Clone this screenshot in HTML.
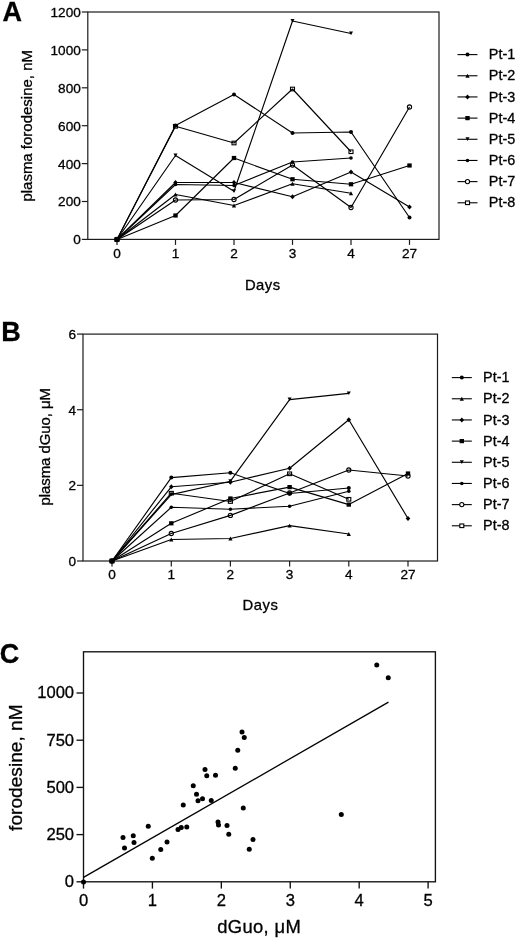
<!DOCTYPE html>
<html lang="en"><head><meta charset="utf-8"><title>Figure</title>
<style>html,body{margin:0;padding:0;background:#fff}svg{display:block}text{font-kerning:none;font-family:'Liberation Sans', Arial, Helvetica, sans-serif;fill:#000;stroke:#000;stroke-width:0.3px}</style>
</head><body>
<svg width="520" height="941" viewBox="0 0 520 941">
<rect width="520" height="941" fill="#fff"/>
<g>
<rect x="87.8" y="12.0" width="351.2" height="227.4" fill="none" stroke="#1c1c1c" stroke-width="1.2"/>
<line x1="81.8" y1="239.4" x2="87.8" y2="239.4" stroke="#1c1c1c" stroke-width="1.2"/>
<text x="80.8" y="244.30" font-size="13.6" text-anchor="end">0</text>
<line x1="81.8" y1="201.5" x2="87.8" y2="201.5" stroke="#1c1c1c" stroke-width="1.2"/>
<text x="80.8" y="206.40" font-size="13.6" text-anchor="end">200</text>
<line x1="81.8" y1="163.6" x2="87.8" y2="163.6" stroke="#1c1c1c" stroke-width="1.2"/>
<text x="80.8" y="168.50" font-size="13.6" text-anchor="end">400</text>
<line x1="81.8" y1="125.7" x2="87.8" y2="125.7" stroke="#1c1c1c" stroke-width="1.2"/>
<text x="80.8" y="130.60" font-size="13.6" text-anchor="end">600</text>
<line x1="81.8" y1="87.8" x2="87.8" y2="87.8" stroke="#1c1c1c" stroke-width="1.2"/>
<text x="80.8" y="92.70" font-size="13.6" text-anchor="end">800</text>
<line x1="81.8" y1="49.9" x2="87.8" y2="49.9" stroke="#1c1c1c" stroke-width="1.2"/>
<text x="80.8" y="54.80" font-size="13.6" text-anchor="end">1000</text>
<line x1="81.8" y1="12.0" x2="87.8" y2="12.0" stroke="#1c1c1c" stroke-width="1.2"/>
<text x="80.8" y="16.90" font-size="13.6" text-anchor="end">1200</text>
<line x1="117" y1="239.4" x2="117" y2="244.9" stroke="#1c1c1c" stroke-width="1.2"/>
<text x="117" y="257.6" font-size="13.6" text-anchor="middle">0</text>
<line x1="175.5" y1="239.4" x2="175.5" y2="244.9" stroke="#1c1c1c" stroke-width="1.2"/>
<text x="175.5" y="257.6" font-size="13.6" text-anchor="middle">1</text>
<line x1="234" y1="239.4" x2="234" y2="244.9" stroke="#1c1c1c" stroke-width="1.2"/>
<text x="234" y="257.6" font-size="13.6" text-anchor="middle">2</text>
<line x1="292.5" y1="239.4" x2="292.5" y2="244.9" stroke="#1c1c1c" stroke-width="1.2"/>
<text x="292.5" y="257.6" font-size="13.6" text-anchor="middle">3</text>
<line x1="351" y1="239.4" x2="351" y2="244.9" stroke="#1c1c1c" stroke-width="1.2"/>
<text x="351" y="257.6" font-size="13.6" text-anchor="middle">4</text>
<line x1="409.5" y1="239.4" x2="409.5" y2="244.9" stroke="#1c1c1c" stroke-width="1.2"/>
<text x="409.5" y="257.6" font-size="13.6" text-anchor="middle">27</text>
<text x="244.9" y="289.8" font-size="14.8" textLength="35.3" lengthAdjust="spacing">Days</text>
<text transform="translate(32.1 201.6) rotate(-90)" font-size="15" textLength="151.6" lengthAdjust="spacing">plasma forodesine, nM</text>
<text x="2.6" y="21" font-size="27" font-weight="bold" stroke-width="0">A</text>
<polyline points="117,239.5 175.5,125.5 234,94.5 292.5,133 351,132 409.5,217.5" fill="none" stroke="#000" stroke-width="1.15" stroke-linejoin="round"/>
<polyline points="117,239.5 175.5,194.5 234,205.5 292.5,183.75 351,193.25" fill="none" stroke="#000" stroke-width="1.15" stroke-linejoin="round"/>
<polyline points="117,239.5 175.5,182.5 234,182.5 292.5,196.75 351,172 409.5,207" fill="none" stroke="#000" stroke-width="1.15" stroke-linejoin="round"/>
<polyline points="117,239.5 175.5,215.5 234,158 292.5,179.25 351,184.25 409.5,165.5" fill="none" stroke="#000" stroke-width="1.15" stroke-linejoin="round"/>
<polyline points="117,239.5 175.5,155.5 234,191.25 292.5,21 351,33.5" fill="none" stroke="#000" stroke-width="1.15" stroke-linejoin="round"/>
<polyline points="117,239.5 175.5,184.5 234,185.5 292.5,162 351,158" fill="none" stroke="#000" stroke-width="1.15" stroke-linejoin="round"/>
<polyline points="117,239.5 175.5,200 234,199.5 292.5,165 351,207.5 409.5,107" fill="none" stroke="#000" stroke-width="1.15" stroke-linejoin="round"/>
<polyline points="117,239.5 175.5,126.3 234,143 292.5,89 351,151.75" fill="none" stroke="#000" stroke-width="1.15" stroke-linejoin="round"/>
<circle cx="117" cy="239.5" r="2.0"/>
<circle cx="175.5" cy="125.5" r="2.0"/>
<circle cx="234" cy="94.5" r="2.0"/>
<circle cx="292.5" cy="133" r="2.0"/>
<circle cx="351" cy="132" r="2.0"/>
<circle cx="409.5" cy="217.5" r="2.0"/>
<path d="M114.90 241.50L119.10 241.50L117 237.60Z"/>
<path d="M173.40 196.50L177.60 196.50L175.5 192.60Z"/>
<path d="M231.90 207.50L236.10 207.50L234 203.60Z"/>
<path d="M290.40 185.75L294.60 185.75L292.5 181.85Z"/>
<path d="M348.90 195.25L353.10 195.25L351 191.35Z"/>
<path d="M114.70 239.5L117 237.00L119.30 239.5L117 242.00Z"/>
<path d="M173.20 182.5L175.5 180.00L177.80 182.5L175.5 185.00Z"/>
<path d="M231.70 182.5L234 180.00L236.30 182.5L234 185.00Z"/>
<path d="M290.20 196.75L292.5 194.25L294.80 196.75L292.5 199.25Z"/>
<path d="M348.70 172L351 169.50L353.30 172L351 174.50Z"/>
<path d="M407.20 207L409.5 204.50L411.80 207L409.5 209.50Z"/>
<rect x="114.80" y="237.40" width="4.4" height="4.2"/>
<rect x="173.30" y="213.40" width="4.4" height="4.2"/>
<rect x="231.80" y="155.90" width="4.4" height="4.2"/>
<rect x="290.30" y="177.15" width="4.4" height="4.2"/>
<rect x="348.80" y="182.15" width="4.4" height="4.2"/>
<rect x="407.30" y="163.40" width="4.4" height="4.2"/>
<path d="M115.00 237.50L119.00 237.50L117 241.20Z"/>
<path d="M173.50 153.50L177.50 153.50L175.5 157.20Z"/>
<path d="M232.00 189.25L236.00 189.25L234 192.95Z"/>
<path d="M290.50 19.00L294.50 19.00L292.5 22.70Z"/>
<path d="M349.00 31.50L353.00 31.50L351 35.20Z"/>
<circle cx="117" cy="239.5" r="1.8"/>
<circle cx="175.5" cy="184.5" r="1.8"/>
<circle cx="234" cy="185.5" r="1.8"/>
<circle cx="292.5" cy="162" r="1.8"/>
<circle cx="351" cy="158" r="1.8"/>
<circle cx="117" cy="239.5" r="2.1" fill="none" stroke="#000" stroke-width="1.1"/>
<circle cx="175.5" cy="200" r="2.1" fill="none" stroke="#000" stroke-width="1.1"/>
<circle cx="234" cy="199.5" r="2.1" fill="none" stroke="#000" stroke-width="1.1"/>
<circle cx="292.5" cy="165" r="2.1" fill="none" stroke="#000" stroke-width="1.1"/>
<circle cx="351" cy="207.5" r="2.1" fill="none" stroke="#000" stroke-width="1.1"/>
<circle cx="409.5" cy="107" r="2.1" fill="none" stroke="#000" stroke-width="1.1"/>
<rect x="115.00" y="237.70" width="4" height="3.6" fill="none" stroke="#000" stroke-width="1.1"/>
<rect x="173.50" y="124.50" width="4" height="3.6" fill="none" stroke="#000" stroke-width="1.1"/>
<rect x="232.00" y="141.20" width="4" height="3.6" fill="none" stroke="#000" stroke-width="1.1"/>
<rect x="290.50" y="87.20" width="4" height="3.6" fill="none" stroke="#000" stroke-width="1.1"/>
<rect x="349.00" y="149.95" width="4" height="3.6" fill="none" stroke="#000" stroke-width="1.1"/>
<line x1="457.5" y1="54.60" x2="477.5" y2="54.60" stroke="#000" stroke-width="1.1"/>
<circle cx="467.5" cy="54.6" r="2.0"/>
<text x="488.8" y="59.20" font-size="14.4">Pt-1</text>
<line x1="457.5" y1="75.77" x2="477.5" y2="75.77" stroke="#000" stroke-width="1.1"/>
<path d="M465.40 77.77L469.60 77.77L467.5 73.87Z"/>
<text x="488.8" y="80.37" font-size="14.4">Pt-2</text>
<line x1="457.5" y1="96.94" x2="477.5" y2="96.94" stroke="#000" stroke-width="1.1"/>
<path d="M465.20 96.94L467.5 94.44L469.80 96.94L467.5 99.44Z"/>
<text x="488.8" y="101.54" font-size="14.4">Pt-3</text>
<line x1="457.5" y1="118.11" x2="477.5" y2="118.11" stroke="#000" stroke-width="1.1"/>
<rect x="465.30" y="116.01" width="4.4" height="4.2"/>
<text x="488.8" y="122.71" font-size="14.4">Pt-4</text>
<line x1="457.5" y1="139.28" x2="477.5" y2="139.28" stroke="#000" stroke-width="1.1"/>
<path d="M465.50 137.28L469.50 137.28L467.5 140.98Z"/>
<text x="488.8" y="143.88" font-size="14.4">Pt-5</text>
<line x1="457.5" y1="160.45" x2="477.5" y2="160.45" stroke="#000" stroke-width="1.1"/>
<circle cx="467.5" cy="160.45" r="1.8"/>
<text x="488.8" y="165.05" font-size="14.4">Pt-6</text>
<line x1="457.5" y1="181.62" x2="477.5" y2="181.62" stroke="#000" stroke-width="1.1"/>
<circle cx="467.5" cy="181.62" r="2.1" fill="#fff" stroke="#000" stroke-width="1.1"/>
<text x="488.8" y="186.22" font-size="14.4">Pt-7</text>
<line x1="457.5" y1="202.79" x2="477.5" y2="202.79" stroke="#000" stroke-width="1.1"/>
<rect x="465.50" y="200.99" width="4" height="3.6" fill="#fff" stroke="#000" stroke-width="1.1"/>
<text x="488.8" y="207.39" font-size="14.4">Pt-8</text>
</g>
<g>
<rect x="83" y="334.1" width="354.5" height="226.89999999999998" fill="none" stroke="#1c1c1c" stroke-width="1.2"/>
<line x1="77" y1="561.0" x2="83" y2="561.0" stroke="#1c1c1c" stroke-width="1.2"/>
<text x="76" y="565.90" font-size="13.6" text-anchor="end">0</text>
<line x1="77" y1="485.36" x2="83" y2="485.36" stroke="#1c1c1c" stroke-width="1.2"/>
<text x="76" y="490.26" font-size="13.6" text-anchor="end">2</text>
<line x1="77" y1="409.72" x2="83" y2="409.72" stroke="#1c1c1c" stroke-width="1.2"/>
<text x="76" y="414.62" font-size="13.6" text-anchor="end">4</text>
<line x1="77" y1="334.08" x2="83" y2="334.08" stroke="#1c1c1c" stroke-width="1.2"/>
<text x="76" y="338.98" font-size="13.6" text-anchor="end">6</text>
<line x1="112" y1="561.0" x2="112" y2="566.5" stroke="#1c1c1c" stroke-width="1.2"/>
<text x="112" y="579" font-size="13.6" text-anchor="middle">0</text>
<line x1="171.3" y1="561.0" x2="171.3" y2="566.5" stroke="#1c1c1c" stroke-width="1.2"/>
<text x="171.3" y="579" font-size="13.6" text-anchor="middle">1</text>
<line x1="230.4" y1="561.0" x2="230.4" y2="566.5" stroke="#1c1c1c" stroke-width="1.2"/>
<text x="230.4" y="579" font-size="13.6" text-anchor="middle">2</text>
<line x1="289.6" y1="561.0" x2="289.6" y2="566.5" stroke="#1c1c1c" stroke-width="1.2"/>
<text x="289.6" y="579" font-size="13.6" text-anchor="middle">3</text>
<line x1="348.8" y1="561.0" x2="348.8" y2="566.5" stroke="#1c1c1c" stroke-width="1.2"/>
<text x="348.8" y="579" font-size="13.6" text-anchor="middle">4</text>
<line x1="408" y1="561.0" x2="408" y2="566.5" stroke="#1c1c1c" stroke-width="1.2"/>
<text x="408" y="579" font-size="13.6" text-anchor="middle">27</text>
<text x="242.5" y="609.6" font-size="14.8" textLength="35.3" lengthAdjust="spacing">Days</text>
<text transform="translate(49.8 505.5) rotate(-90)" font-size="15" textLength="117.5" lengthAdjust="spacing">plasma dGuo, μM</text>
<text x="1.2" y="341" font-size="27" font-weight="bold" stroke-width="0">B</text>
<polyline points="112,561.0 171.3,477.6 230.4,472.8 289.6,493.5 348.8,488" fill="none" stroke="#000" stroke-width="1.15" stroke-linejoin="round"/>
<polyline points="112,561.0 171.3,539.5 230.4,538.5 289.6,525.6 348.8,534" fill="none" stroke="#000" stroke-width="1.15" stroke-linejoin="round"/>
<polyline points="112,561.0 171.3,486.8 230.4,482.2 289.6,468.3 348.8,419.7 408,518.5" fill="none" stroke="#000" stroke-width="1.15" stroke-linejoin="round"/>
<polyline points="112,561.0 171.3,523.3 230.4,498.5 289.6,487.1 348.8,504.6 408,473.5" fill="none" stroke="#000" stroke-width="1.15" stroke-linejoin="round"/>
<polyline points="112,561.0 171.3,494.6 230.4,481.2 289.6,399.6 348.8,393.4" fill="none" stroke="#000" stroke-width="1.15" stroke-linejoin="round"/>
<polyline points="112,561.0 171.3,507.3 230.4,509.2 289.6,506.3 348.8,491.2" fill="none" stroke="#000" stroke-width="1.15" stroke-linejoin="round"/>
<polyline points="112,561.0 171.3,533.5 230.4,515.4 289.6,493 348.8,470 408,476" fill="none" stroke="#000" stroke-width="1.15" stroke-linejoin="round"/>
<polyline points="112,561.0 171.3,493.2 230.4,501.5 289.6,473.8 348.8,499.3" fill="none" stroke="#000" stroke-width="1.15" stroke-linejoin="round"/>
<circle cx="112" cy="561.0" r="2.0"/>
<circle cx="171.3" cy="477.6" r="2.0"/>
<circle cx="230.4" cy="472.8" r="2.0"/>
<circle cx="289.6" cy="493.5" r="2.0"/>
<circle cx="348.8" cy="488" r="2.0"/>
<path d="M109.90 563.00L114.10 563.00L112 559.10Z"/>
<path d="M169.20 541.50L173.40 541.50L171.3 537.60Z"/>
<path d="M228.30 540.50L232.50 540.50L230.4 536.60Z"/>
<path d="M287.50 527.60L291.70 527.60L289.6 523.70Z"/>
<path d="M346.70 536.00L350.90 536.00L348.8 532.10Z"/>
<path d="M109.70 561.0L112 558.50L114.30 561.0L112 563.50Z"/>
<path d="M169.00 486.8L171.3 484.30L173.60 486.8L171.3 489.30Z"/>
<path d="M228.10 482.2L230.4 479.70L232.70 482.2L230.4 484.70Z"/>
<path d="M287.30 468.3L289.6 465.80L291.90 468.3L289.6 470.80Z"/>
<path d="M346.50 419.7L348.8 417.20L351.10 419.7L348.8 422.20Z"/>
<path d="M405.70 518.5L408 516.00L410.30 518.5L408 521.00Z"/>
<rect x="109.80" y="558.90" width="4.4" height="4.2"/>
<rect x="169.10" y="521.20" width="4.4" height="4.2"/>
<rect x="228.20" y="496.40" width="4.4" height="4.2"/>
<rect x="287.40" y="485.00" width="4.4" height="4.2"/>
<rect x="346.60" y="502.50" width="4.4" height="4.2"/>
<rect x="405.80" y="471.40" width="4.4" height="4.2"/>
<path d="M110.00 559.00L114.00 559.00L112 562.70Z"/>
<path d="M169.30 492.60L173.30 492.60L171.3 496.30Z"/>
<path d="M228.40 479.20L232.40 479.20L230.4 482.90Z"/>
<path d="M287.60 397.60L291.60 397.60L289.6 401.30Z"/>
<path d="M346.80 391.40L350.80 391.40L348.8 395.10Z"/>
<circle cx="112" cy="561.0" r="1.8"/>
<circle cx="171.3" cy="507.3" r="1.8"/>
<circle cx="230.4" cy="509.2" r="1.8"/>
<circle cx="289.6" cy="506.3" r="1.8"/>
<circle cx="348.8" cy="491.2" r="1.8"/>
<circle cx="112" cy="561.0" r="2.1" fill="none" stroke="#000" stroke-width="1.1"/>
<circle cx="171.3" cy="533.5" r="2.1" fill="none" stroke="#000" stroke-width="1.1"/>
<circle cx="230.4" cy="515.4" r="2.1" fill="none" stroke="#000" stroke-width="1.1"/>
<circle cx="289.6" cy="493" r="2.1" fill="none" stroke="#000" stroke-width="1.1"/>
<circle cx="348.8" cy="470" r="2.1" fill="none" stroke="#000" stroke-width="1.1"/>
<circle cx="408" cy="476" r="2.1" fill="none" stroke="#000" stroke-width="1.1"/>
<rect x="110.00" y="559.20" width="4" height="3.6" fill="none" stroke="#000" stroke-width="1.1"/>
<rect x="169.30" y="491.40" width="4" height="3.6" fill="none" stroke="#000" stroke-width="1.1"/>
<rect x="228.40" y="499.70" width="4" height="3.6" fill="none" stroke="#000" stroke-width="1.1"/>
<rect x="287.60" y="472.00" width="4" height="3.6" fill="none" stroke="#000" stroke-width="1.1"/>
<rect x="346.80" y="497.50" width="4" height="3.6" fill="none" stroke="#000" stroke-width="1.1"/>
<line x1="451.8" y1="377.60" x2="471.8" y2="377.60" stroke="#000" stroke-width="1.1"/>
<circle cx="461.8" cy="377.6" r="2.0"/>
<text x="483.1" y="382.20" font-size="14.4">Pt-1</text>
<line x1="451.8" y1="398.77" x2="471.8" y2="398.77" stroke="#000" stroke-width="1.1"/>
<path d="M459.70 400.77L463.90 400.77L461.8 396.87Z"/>
<text x="483.1" y="403.37" font-size="14.4">Pt-2</text>
<line x1="451.8" y1="419.94" x2="471.8" y2="419.94" stroke="#000" stroke-width="1.1"/>
<path d="M459.50 419.94L461.8 417.44L464.10 419.94L461.8 422.44Z"/>
<text x="483.1" y="424.54" font-size="14.4">Pt-3</text>
<line x1="451.8" y1="441.11" x2="471.8" y2="441.11" stroke="#000" stroke-width="1.1"/>
<rect x="459.60" y="439.01" width="4.4" height="4.2"/>
<text x="483.1" y="445.71" font-size="14.4">Pt-4</text>
<line x1="451.8" y1="462.28" x2="471.8" y2="462.28" stroke="#000" stroke-width="1.1"/>
<path d="M459.80 460.28L463.80 460.28L461.8 463.98Z"/>
<text x="483.1" y="466.88" font-size="14.4">Pt-5</text>
<line x1="451.8" y1="483.45" x2="471.8" y2="483.45" stroke="#000" stroke-width="1.1"/>
<circle cx="461.8" cy="483.45" r="1.8"/>
<text x="483.1" y="488.05" font-size="14.4">Pt-6</text>
<line x1="451.8" y1="504.62" x2="471.8" y2="504.62" stroke="#000" stroke-width="1.1"/>
<circle cx="461.8" cy="504.62" r="2.1" fill="#fff" stroke="#000" stroke-width="1.1"/>
<text x="483.1" y="509.22" font-size="14.4">Pt-7</text>
<line x1="451.8" y1="525.79" x2="471.8" y2="525.79" stroke="#000" stroke-width="1.1"/>
<rect x="459.80" y="523.99" width="4" height="3.6" fill="#fff" stroke="#000" stroke-width="1.1"/>
<text x="483.1" y="530.39" font-size="14.4">Pt-8</text>
</g>
<g>
<rect x="83.5" y="651.8" width="351.9" height="230.0" fill="none" stroke="#111" stroke-width="1.35"/>
<line x1="76.5" y1="881.8" x2="83.5" y2="881.8" stroke="#111" stroke-width="1.35"/>
<text x="74.1" y="887.0999999999999" font-size="16.6" text-anchor="end">0</text>
<line x1="76.5" y1="834.6" x2="83.5" y2="834.6" stroke="#111" stroke-width="1.35"/>
<text x="74.1" y="839.9" font-size="16.6" text-anchor="end">250</text>
<line x1="76.5" y1="787.4" x2="83.5" y2="787.4" stroke="#111" stroke-width="1.35"/>
<text x="74.1" y="792.6999999999999" font-size="16.6" text-anchor="end">500</text>
<line x1="76.5" y1="740.2" x2="83.5" y2="740.2" stroke="#111" stroke-width="1.35"/>
<text x="74.1" y="745.5" font-size="16.6" text-anchor="end">750</text>
<line x1="76.5" y1="693.0" x2="83.5" y2="693.0" stroke="#111" stroke-width="1.35"/>
<text x="74.1" y="698.3" font-size="16.6" text-anchor="end">1000</text>
<line x1="83.50" y1="881.8" x2="83.50" y2="888.60" stroke="#111" stroke-width="1.35"/>
<text x="83.50" y="905.5" font-size="16.6" text-anchor="middle">0</text>
<line x1="152.42" y1="881.8" x2="152.42" y2="888.60" stroke="#111" stroke-width="1.35"/>
<text x="152.42" y="905.5" font-size="16.6" text-anchor="middle">1</text>
<line x1="221.34" y1="881.8" x2="221.34" y2="888.60" stroke="#111" stroke-width="1.35"/>
<text x="221.34" y="905.5" font-size="16.6" text-anchor="middle">2</text>
<line x1="290.26" y1="881.8" x2="290.26" y2="888.60" stroke="#111" stroke-width="1.35"/>
<text x="290.26" y="905.5" font-size="16.6" text-anchor="middle">3</text>
<line x1="359.18" y1="881.8" x2="359.18" y2="888.60" stroke="#111" stroke-width="1.35"/>
<text x="359.18" y="905.5" font-size="16.6" text-anchor="middle">4</text>
<line x1="428.10" y1="881.8" x2="428.10" y2="888.60" stroke="#111" stroke-width="1.35"/>
<text x="428.10" y="905.5" font-size="16.6" text-anchor="middle">5</text>
<text x="217.2" y="932.8" font-size="18.4" textLength="83.6" lengthAdjust="spacing">dGuo, μM</text>
<text transform="translate(22.3 830.9) rotate(-90)" font-size="19.2" textLength="126.6" lengthAdjust="spacingAndGlyphs">forodesine, nM</text>
<text x="-0.3" y="662.6" font-size="27" font-weight="bold" stroke-width="0">C</text>
<line x1="83.5" y1="877.4" x2="388.5" y2="702.1" stroke="#000" stroke-width="1.3"/>
<circle cx="123" cy="837.5" r="2.5"/>
<circle cx="124.5" cy="848" r="2.5"/>
<circle cx="133.25" cy="835.75" r="2.5"/>
<circle cx="134" cy="842.5" r="2.5"/>
<circle cx="148.25" cy="826.25" r="2.5"/>
<circle cx="152.3" cy="858.2" r="2.5"/>
<circle cx="160.75" cy="849.6" r="2.5"/>
<circle cx="167" cy="842" r="2.5"/>
<circle cx="178" cy="829.5" r="2.5"/>
<circle cx="181.25" cy="827.5" r="2.5"/>
<circle cx="186.75" cy="827" r="2.5"/>
<circle cx="183.25" cy="805" r="2.5"/>
<circle cx="193.25" cy="785.75" r="2.5"/>
<circle cx="196.5" cy="794.25" r="2.5"/>
<circle cx="198" cy="800.75" r="2.5"/>
<circle cx="202.5" cy="798.75" r="2.5"/>
<circle cx="205" cy="769.5" r="2.5"/>
<circle cx="206.75" cy="775.75" r="2.5"/>
<circle cx="215.5" cy="775.25" r="2.5"/>
<circle cx="211.25" cy="800.5" r="2.5"/>
<circle cx="218" cy="822" r="2.5"/>
<circle cx="218.5" cy="825" r="2.5"/>
<circle cx="227" cy="825.5" r="2.5"/>
<circle cx="228.75" cy="834.25" r="2.5"/>
<circle cx="242" cy="732" r="2.5"/>
<circle cx="244.25" cy="737.5" r="2.5"/>
<circle cx="237.75" cy="750.25" r="2.5"/>
<circle cx="235.25" cy="768.25" r="2.5"/>
<circle cx="243.25" cy="808" r="2.5"/>
<circle cx="253" cy="839.5" r="2.5"/>
<circle cx="249.25" cy="849.25" r="2.5"/>
<circle cx="341.3" cy="814.6" r="2.5"/>
<circle cx="376.75" cy="665" r="2.5"/>
<circle cx="388.25" cy="677.75" r="2.5"/>
<circle cx="83.5" cy="882" r="2.5"/>
</g>
</svg></body></html>
